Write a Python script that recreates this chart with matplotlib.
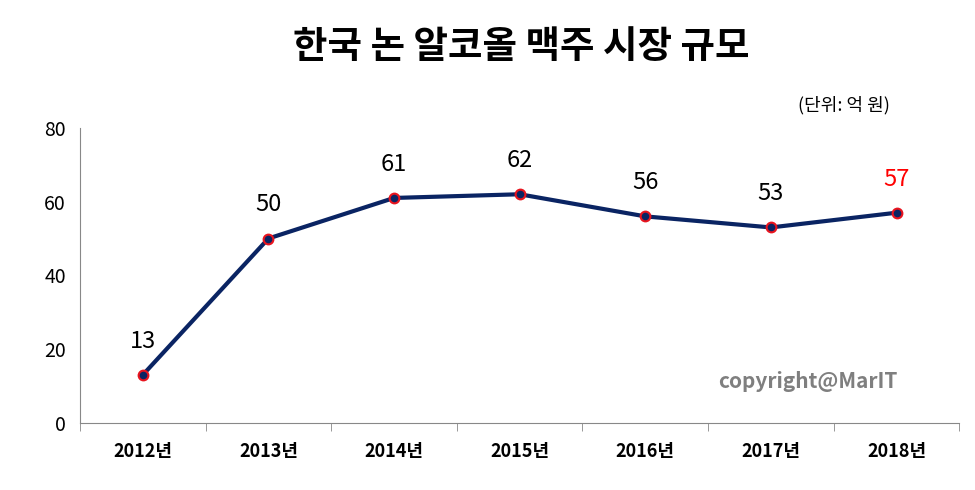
import numpy as np
import matplotlib.pyplot as plt

plt.rcParams['font.family'] = ['Noto Sans CJK KR', 'DejaVu Sans']

years = ['2012년', '2013년', '2014년', '2015년', '2016년', '2017년', '2018년']
sizes = [13, 50, 61, 62, 56, 53, 57]

fig = plt.figure(figsize=(9.75, 4.9), dpi=100)
ax = fig.add_axes([0.082, 0.137, 0.902, 0.602])

x = np.arange(len(years))
ax.plot(x, sizes, color='#0a2463', lw=3, marker='o', ms=7,
        mfc='#0a2463', mec='#e8141e', mew=1.5, zorder=3)
for i, v in enumerate(sizes):
    ax.text(i, v + 6, str(v), ha='center', va='bottom', fontsize=17,
            color='#ff0000' if i == len(sizes) - 1 else 'black')

ax.set_xlim(-0.5, len(years) - 0.5)
ax.set_ylim(0, 80)
ax.set_yticks([0, 20, 40, 60, 80])
ax.tick_params(axis='y', labelsize=14, length=0, pad=10)
ax.set_xticks(x)
ax.set_xticklabels(years, fontsize=13, fontweight='bold')
ax.tick_params(axis='x', length=0, pad=14)
ax.set_xticks(np.arange(len(years) + 1) - 0.5, minor=True)
ax.tick_params(axis='x', which='minor', length=6, color='#888888')
for s in ['top', 'right']:
    ax.spines[s].set_visible(False)
for s in ['left', 'bottom']:
    ax.spines[s].set_color('#888888')

fig.text(0.535, 0.905, '한국 논 알코올 맥주 시장 규모', ha='center', va='center',
         fontsize=27, fontweight='bold')
fig.text(0.913, 0.785, '(단위: 억 원)', ha='right', va='center', fontsize=13)
ax.text(0.93, 0.14, 'copyright@MarIT', transform=ax.transAxes, ha='right',
        va='center', fontsize=15, fontweight='bold', color='#7f7f7f')

fig.savefig('out.png')
